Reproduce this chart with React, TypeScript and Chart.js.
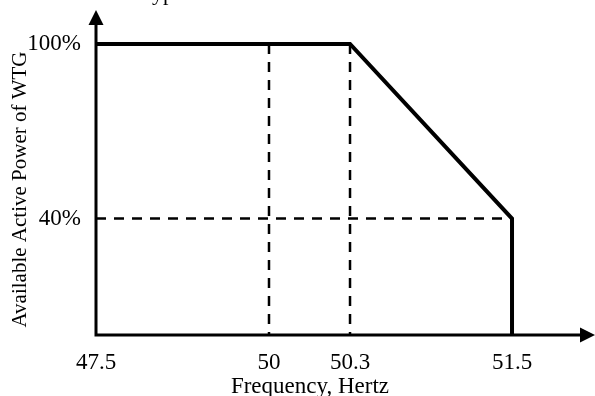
import { useEffect, useRef } from 'react';
import { Chart, LinearScale, registerables } from 'chart.js';

// Frequency ticks on the horizontal axis and their labels
const freqTicks = [47.5, 50, 50.3, 51.5];
const freqTickLabels = ['47.5', '50', '50.3', '51.5'];

// Power ticks on the vertical axis (percent of available power)
const powerTicks = [40, 100];
const powerTickLabels = ['40%', '100%'];

// Power-frequency characteristic
const curveFreq = [47.5, 50.3, 51.5, 51.5];
const curvePower = [100, 100, 40, 0];

// Dashed guide lines
const guide50Freq = [50, 50];
const guide50Power = [100, 0];
const guide503Freq = [50.3, 50.3];
const guide503Power = [100, 0];
const guide40Freq = [47.5, 51.5];
const guide40Power = [40, 40];

const xTitle = 'Frequency, Hertz';
const yTitle = 'Available Active Power of WTG';
const heading = 'Typical';

const SERIF = '"Liberation Serif", "Times New Roman", serif';

// Linear scale whose value-to-pixel mapping is piecewise linear between
// configured stops, so the schematic frequency axis keeps its drawn spacing.
class SchematicScale extends LinearScale {
  static id = 'schematic';
  static defaults = LinearScale.defaults;

  getPixelForValue(value: number) {
    const stops: number[][] = (this.options as any).stops;
    let i = 0;
    while (i < stops.length - 2 && value > stops[i + 1][0]) i++;
    const [v0, f0] = stops[i];
    const [v1, f1] = stops[i + 1];
    const frac = f0 + ((value - v0) / (v1 - v0)) * (f1 - f0);
    return this.getPixelForDecimal(frac);
  }

  getValueForPixel(pixel: number) {
    const stops: number[][] = (this.options as any).stops;
    const frac = this.getDecimalForPixel(pixel);
    let i = 0;
    while (i < stops.length - 2 && frac > stops[i + 1][1]) i++;
    const [v0, f0] = stops[i];
    const [v1, f1] = stops[i + 1];
    return v0 + ((frac - f0) / (f1 - f0)) * (v1 - v0);
  }
}

Chart.register(...registerables, SchematicScale);

const toPoints = (xs: number[], ys: number[]) => xs.map((x, i) => ({ x, y: ys[i] }));

const PAD_LEFT = 8;
const PAD_RIGHT = 71;
const PAD_TOP = 44;
const PAD_BOTTOM = -5;

const axesWithArrows = {
  id: 'axesWithArrows',
  afterDatasetsDraw(chart: any) {
    const { ctx, chartArea } = chart;
    const { left, bottom } = chartArea;
    const w = chart.width;
    ctx.save();
    ctx.strokeStyle = '#000';
    ctx.fillStyle = '#000';
    ctx.lineWidth = 3;
    ctx.lineCap = 'butt';
    ctx.beginPath();
    ctx.moveTo(left, bottom + 1.5);
    ctx.lineTo(left, 24);
    ctx.moveTo(left - 1.5, bottom);
    ctx.lineTo(w - 14, bottom);
    ctx.stroke();

    // arrow heads
    ctx.beginPath();
    ctx.moveTo(left, 10);
    ctx.lineTo(left - 7.5, 25);
    ctx.lineTo(left + 7.5, 25);
    ctx.closePath();
    ctx.fill();
    ctx.beginPath();
    ctx.moveTo(w, bottom);
    ctx.lineTo(w - 15, bottom - 7.5);
    ctx.lineTo(w - 15, bottom + 7.5);
    ctx.closePath();
    ctx.fill();

    // heading sits above the canvas edge, only descenders show
    ctx.font = `22px ${SERIF}`;
    ctx.textAlign = 'left';
    ctx.textBaseline = 'alphabetic';
    ctx.fillText(heading, 140, 0);
    ctx.restore();
  },
};

export default function App() {
  const canvasRef = useRef<HTMLCanvasElement | null>(null);

  useEffect(() => {
    document.body.style.margin = '0';
    const canvas = canvasRef.current;
    if (!canvas) return;

    const guideStyle = {
      borderColor: '#000',
      borderWidth: 2.5,
      borderDash: [10, 8],
      pointRadius: 0,
      fill: false,
      tension: 0,
      clip: false as const,
    };

    const chart = new Chart(canvas, {
      type: 'line',
      data: {
        datasets: [
          { ...guideStyle, label: 'f = 50', data: toPoints(guide50Freq, guide50Power) },
          { ...guideStyle, label: 'f = 50.3', data: toPoints(guide503Freq, guide503Power) },
          { ...guideStyle, label: 'P = 40%', data: toPoints(guide40Freq, guide40Power) },
          {
            label: 'Available power',
            data: toPoints(curveFreq, curvePower),
            borderColor: '#000',
            borderWidth: 4,
            borderJoinStyle: 'miter',
            pointRadius: 0,
            fill: false,
            tension: 0,
            clip: false as const,
          },
        ],
      },
      options: {
        responsive: false,
        animation: false,
        devicePixelRatio: 1,
        events: [],
        layout: { padding: { left: PAD_LEFT, right: PAD_RIGHT, top: PAD_TOP, bottom: PAD_BOTTOM } },
        plugins: {
          legend: { display: false },
          tooltip: { enabled: false },
        },
        scales: {
          x: {
            type: 'schematic' as any,
            min: 47.5,
            max: 51.5,
            stops: [
              [47.5, 0],
              [50, 0.4042],
              [50.3, 0.5935],
              [51.5, 0.972],
            ],
            grid: { display: false, drawTicks: false },
            border: { display: false },
            afterBuildTicks: (scale: any) => {
              scale.ticks = freqTicks.map((value) => ({ value }));
            },
            afterFit: (scale: any) => {
              scale.height = 396 - 335 - PAD_BOTTOM;
            },
            ticks: {
              autoSkip: false,
              maxRotation: 0,
              padding: 14,
              color: '#000',
              font: { family: SERIF, size: 23 },
              callback: (_v: any, i: number) => freqTickLabels[i],
            },
            title: {
              display: true,
              text: xTitle,
              color: '#000',
              font: { family: SERIF, size: 23 },
              padding: 0,
            },
          } as any,
          y: {
            type: 'linear',
            min: 0,
            max: 100,
            grid: { display: false, drawTicks: false },
            border: { display: false },
            afterBuildTicks: (scale: any) => {
              scale.ticks = powerTicks.map((value) => ({ value }));
            },
            afterFit: (scale: any) => {
              scale.width = 96 - PAD_LEFT;
            },
            ticks: {
              padding: 15,
              color: '#000',
              font: { family: SERIF, size: 23 },
              callback: (_v: any, i: number) => powerTickLabels[i],
            },
            title: {
              display: true,
              text: yTitle,
              color: '#000',
              font: { family: SERIF, size: 21 },
              padding: 0,
            },
          },
        },
      },
      plugins: [axesWithArrows],
    });

    return () => chart.destroy();
  }, []);

  return <canvas ref={canvasRef} width={595} height={396} style={{ display: 'block' }} />;
}
